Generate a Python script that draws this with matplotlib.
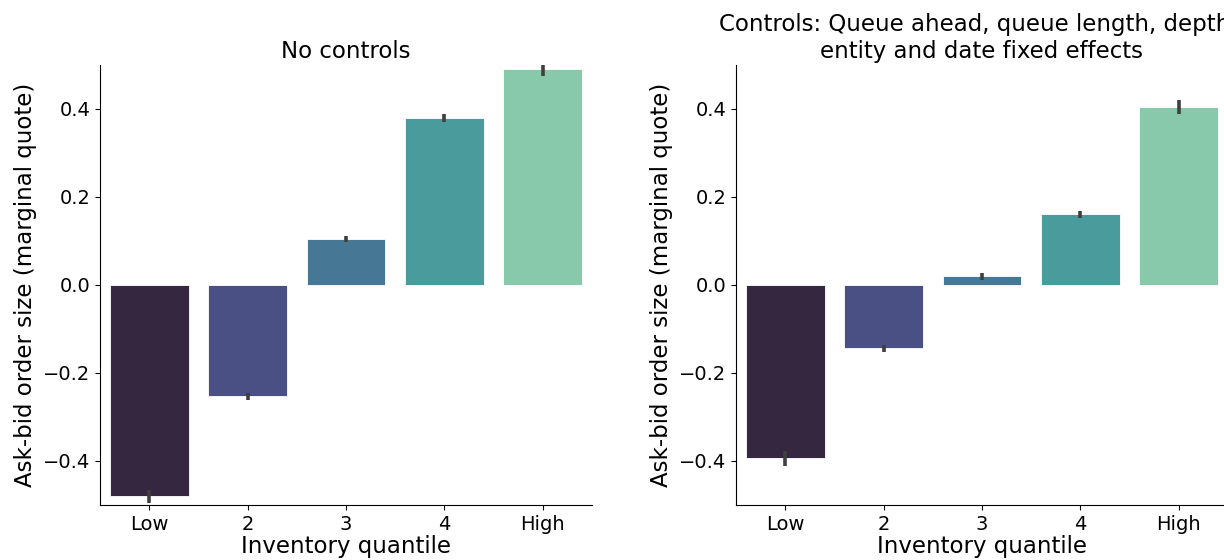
import numpy as np
import matplotlib
matplotlib.use('Agg')
import matplotlib.pyplot as plt

quantiles = ['Low', '2', '3', '4', 'High']
colors = ['#35273f', '#4a5083', '#467896', '#4a9c9c', '#88c9ab']

# no controls
raw_mean = [-0.480, -0.252, 0.104, 0.380, 0.490]
raw_lo   = [-0.496, -0.261, 0.097, 0.371, 0.476]
raw_hi   = [-0.466, -0.246, 0.111, 0.389, 0.500]

# with controls
ctl_mean = [-0.394, -0.144, 0.021, 0.161, 0.405]
ctl_lo   = [-0.411, -0.152, 0.012, 0.152, 0.389]
ctl_hi   = [-0.377, -0.136, 0.028, 0.168, 0.421]

W, H = 1224, 560
fig = plt.figure(figsize=(W / 100, H / 100), dpi=100)
ax1 = fig.add_axes([100 / W, 55 / H, 492 / W, 440 / H])
ax2 = fig.add_axes([736 / W, 55 / H, 492 / W, 440 / H])

panels = [
    (ax1, raw_mean, raw_lo, raw_hi, 'No controls'),
    (ax2, ctl_mean, ctl_lo, ctl_hi,
     'Controls: Queue ahead, queue length, depth, \nentity and date fixed effects'),
]

for ax, mean, lo, hi, title in panels:
    ax.bar(quantiles, mean, width=0.8, color=colors, edgecolor='white', linewidth=0.6)
    ax.vlines(quantiles, lo, hi, color='#3f3f3f', linewidth=2.6)
    ax.set_xlim(-0.5, 4.5)
    ax.set_ylim(-0.5, 0.5)
    ax.set_yticks([-0.4, -0.2, 0.0, 0.2, 0.4])
    ax.set_title(title, fontsize=16.5, pad=5)
    ax.set_xlabel('Inventory quantile', fontsize=16.5, labelpad=1)
    ax.set_ylabel('Ask-bid order size (marginal quote)', fontsize=16.5)
    ax.tick_params(labelsize=14)
    ax.spines['top'].set_visible(False)
    ax.spines['right'].set_visible(False)

fig.savefig('out.png', dpi=100)
